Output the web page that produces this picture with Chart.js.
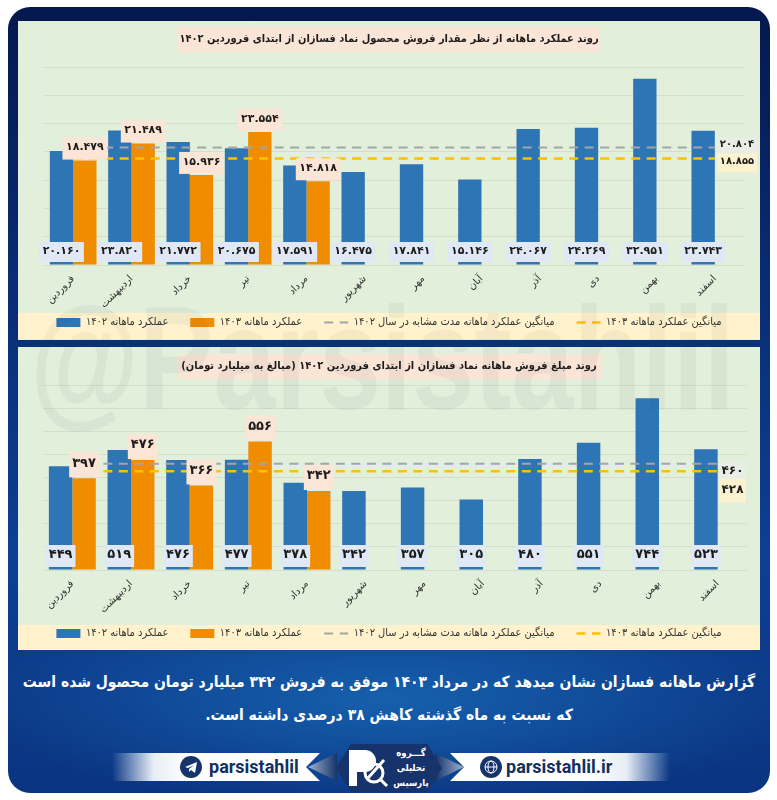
<!DOCTYPE html>
<html lang="fa">
<head>
<meta charset="utf-8">
<title>فسازان</title>
<script src="https://cdn.jsdelivr.net/npm/chart.js@4/dist/chart.umd.min.js"></script>
<style>
html, body { margin: 0; padding: 0; background: #fff; }
#page { position: relative; width: 777px; height: 800px; overflow: hidden; font-family: "DejaVu Sans Condensed", "DejaVu Sans", sans-serif; }
#frame { position: absolute; left: 8px; top: 7px; width: 762px; height: 786px; border-radius: 22px;
  background: radial-gradient(ellipse 420px 110px at 50% 88%, #1660ad 0%, rgba(22,96,173,0) 100%), linear-gradient(180deg, #04184f 0%, #0a2f78 40%, #0d3f92 70%, #0a3480 100%); }
.panel { position: absolute; left: 18px; width: 742px; background: #e2efda; }
.strip { position: absolute; left: 18px; width: 742px; background: #fff2cc; }
.chartbox { position: absolute; left: 18px; width: 742px; }
#watermark { position: absolute; left: 30px; top: 286px; font: bold 146px/1 "Liberation Sans", sans-serif; color: rgba(30,60,70,.05); white-space: nowrap; pointer-events: none; transform: scaleX(.765); transform-origin: left top; }
.note { position: absolute; left: 8px; width: 762px; text-align: center; direction: rtl; color: #fff; font-weight: bold; font-size: 15.5px; white-space: nowrap; }
.ribbon { position: absolute; top: 753px; height: 28px; }
.ribbon span { position: absolute; top: 3px; font: bold 18px "Roboto", sans-serif; color: #12305f; white-space: nowrap; }
.ribbon svg { position: absolute; top: 3px; }
.chevron { position: absolute; top: 753px; width: 29px; height: 28px; }
#logo { position: absolute; left: 336px; top: 744px; width: 106px; height: 48px; background: #16336b;
  clip-path: polygon(0 50%, 14% 0, 86% 0, 100% 50%, 86% 100%, 14% 100%); }
#logo svg { position: absolute; left: 10px; top: 4px; }
#logo i { position: absolute; left: 56px; width: 38px; text-align: center; font-style: normal; font-size: 9.5px; font-weight: bold; color: #fff; direction: rtl; white-space: nowrap; }
canvas { direction: rtl; }
</style>
</head>
<body>
<div id="page">
  <div id="frame"></div>
  <div class="panel" style="top:21px;height:319px"></div>
  <div class="panel" style="top:347px;height:303px"></div>
  <div class="strip" style="top:313px;height:26px"></div>
  <div class="strip" style="top:625px;height:25px"></div>
  <div class="chartbox" style="top:21px;height:333px"><canvas id="volumeChart"></canvas></div>
  <div class="chartbox" style="top:347px;height:312px"><canvas id="amountChart"></canvas></div>
  <div id="watermark">@Parsistahlil</div>
  <div class="note" style="top:673px">گزارش ماهانه فسازان نشان میدهد که در مرداد ۱۴۰۳ موفق به فروش ۳۴۲ میلیارد تومان محصول شده است</div>
  <div class="note" style="top:706px">که نسبت به ماه گذشته کاهش ۳۸ درصدی داشته است.</div>
  <div class="ribbon" style="left:112px;width:208px;clip-path:polygon(0 0,100% 0,calc(100% - 14px) 50%,100% 100%,0 100%);background:linear-gradient(90deg,rgba(255,255,255,0),#e8eef6 20%,#fff 38%,#fff 100%)">
    <svg style="left:68px" width="22" height="22" viewBox="0 0 22 22"><circle cx="11" cy="11" r="11" fill="#16336b"/><path d="M5 11l12-5-2 11-4-3-2 2v-3l5-4-6 3z" fill="#fff"/></svg>
    <span style="left:97px">parsistahlil</span>
  </div>
  <div class="chevron" style="left:308px;background:linear-gradient(90deg,#9fb4d0,#16336b);clip-path:polygon(100% 0,100% 100%,0 50%)"></div>
  <div class="ribbon" style="left:450px;width:220px;clip-path:polygon(0 0,100% 0,100% 100%,0 100%,14px 50%);background:linear-gradient(270deg,rgba(255,255,255,0),#e8eef6 20%,#fff 38%,#fff 100%)">
    <svg style="left:30px" width="22" height="22" viewBox="0 0 22 22"><circle cx="11" cy="11" r="11" fill="#16336b"/><circle cx="11" cy="11" r="6" fill="none" stroke="#fff"/><ellipse cx="11" cy="11" rx="3" ry="6" fill="none" stroke="#fff"/><path d="M5 11h12" stroke="#fff"/></svg>
    <span style="left:56px">parsistahlil.ir</span>
  </div>
  <div class="chevron" style="left:435px;background:linear-gradient(270deg,#9fb4d0,#16336b);clip-path:polygon(0 0,0 100%,100% 50%)"></div>
  <div id="logo">
    <svg width="48" height="40" viewBox="0 0 48 40"><path d="M3 2h16a11 11 0 0 1 0 22h-8v14H3z" fill="#fff"/><circle cx="28" cy="25" r="9" fill="none" stroke="#fff" stroke-width="3"/><path d="M34 31l7 7M22 30l16-18" stroke="#fff" stroke-width="3"/></svg>
    <i style="top:3px">گـــروه</i>
    <i style="top:18px">تحلیلی</i>
    <i style="top:33px">پارسیس</i>
  </div>
</div>

<script>
// ماه ها
const months = ['فروردین', 'اردیبهشت', 'خرداد', 'تیر', 'مرداد', 'شهریور', 'مهر', 'آبان', 'آذر', 'دی', 'بهمن', 'اسفند'];

// مقدار فروش
const volume1402 = [20160, 23820, 21772, 20675, 17591, 16475, 17841, 15146, 24067, 24269, 32951, 23743];
const volume1403 = [18479, 21489, 15936, 23554, 14818];
const volumeAvg1402 = [20804, 20804, 20804, 20804, 20804, 20804, 20804, 20804, 20804, 20804, 20804, 20804];
const volumeAvg1403 = [18855, 18855, 18855, 18855, 18855, 18855, 18855, 18855, 18855, 18855, 18855, 18855];

// مبلغ فروش
const amount1402 = [449, 519, 476, 477, 378, 342, 357, 305, 480, 551, 744, 523];
const amount1403 = [397, 476, 366, 556, 342];
const amountAvg1402 = [460, 460, 460, 460, 460, 460, 460, 460, 460, 460, 460, 460];
const amountAvg1403 = [428, 428, 428, 428, 428, 428, 428, 428, 428, 428, 428, 428];

const seriesNames = ['عملکرد ماهانه ۱۴۰۲', 'عملکرد ماهانه ۱۴۰۳', 'میانگین عملکرد ماهانه مدت مشابه در سال ۱۴۰۲', 'میانگین عملکرد ماهانه ۱۴۰۳'];
const volumeTitle = 'روند عملکرد ماهانه از نظر مقدار فروش محصول نماد فسازان از ابتدای فروردین ۱۴۰۲';
const amountTitle = 'روند مبلغ فروش ماهانه نماد فسازان از ابتدای فروردین ۱۴۰۲ (مبالغ به میلیارد تومان)';

const FONT = '"DejaVu Sans", sans-serif';
const NARROW = '"DejaVu Sans Condensed", "DejaVu Sans", sans-serif';

function toPersian(n) {
    // جداکننده هزارگان مثل تصویر نقطه است
    const s = n >= 1000 ? Math.floor(n / 1000) + '.' + String(n % 1000).padStart(3, '0') : String(n);
    return s.replace(/\d/g, d => '۰۱۲۳۴۵۶۷۸۹'[d]);
}

function box(ctx, text, x, y, w, h, textY, fill, size) {
    ctx.fillStyle = fill;
    ctx.fillRect(x, y, w, h);
    ctx.fillStyle = '#1c1c1c';
    ctx.font = `bold ${size}px ${FONT}`;
    ctx.textAlign = 'center';
    ctx.textBaseline = 'middle';
    ctx.fillText(text, x + w / 2, textY);
}

// کادر عنوان پشت متن عنوان
const titleBack = {
    id: 'titleBack',
    afterLayout(chart, args, opts) {
        // راهنما روی نوار زرد بنشیند، پایین محور x خالی است
        chart.legend.top -= opts.legendLift;
    },
    beforeDraw(chart, args, opts) {
        const t = chart.titleBlock;
        const cy = t.top + t.options.padding.top + t.options.font.size * 0.6;
        chart.ctx.save();
        chart.ctx.fillStyle = '#fbe5d6';
        chart.ctx.fillRect(chart.width / 2 - opts.width / 2, cy - opts.height / 2, opts.width, opts.height);
        chart.ctx.restore();
    }
};

// برچسب ستون ها و میانگین ها
const valueBoxes = {
    id: 'valueBoxes',
    afterDatasetsDraw(chart, args, opts) {
        const ctx = chart.ctx;
        const base = chart.scales.y.getPixelForValue(0);
        ctx.save();
        ctx.font = `bold ${opts.size}px ${FONT}`;
        chart.getDatasetMeta(0).data.forEach((bar, i) => {
            const text = toPersian(chart.data.datasets[0].data[i]);
            const w = ctx.measureText(text).width + opts.padX;
            box(ctx, text, bar.x - w / 2, base - opts.lowTop, w, opts.lowTop - opts.lowGap, base - opts.lowText, '#dfe8f4', opts.size);
        });
        chart.getDatasetMeta(1).data.forEach((bar, i) => {
            const value = chart.data.datasets[1].data[i];
            if (value === undefined) return;
            const text = toPersian(value);
            const w = ctx.measureText(text).width + opts.padX;
            box(ctx, text, bar.x - w / 2, bar.y - opts.topH - 1, w, opts.topH, bar.y - opts.topText, '#fbe5d6', opts.size);
        });
        const g = chart.scales.y.getPixelForValue(chart.data.datasets[2].data[0]);
        const o = chart.scales.y.getPixelForValue(chart.data.datasets[3].data[0]);
        box(ctx, toPersian(chart.data.datasets[2].data[0]), opts.endX, g + opts.gray[0], opts.endW, opts.gray[1], g + opts.gray[2], '#e9ede6', opts.size - 1);
        box(ctx, toPersian(chart.data.datasets[3].data[0]), opts.endX, o + opts.gold[0], opts.endW, opts.gold[1], o + opts.gold[2], '#fdf2d0', opts.size - 1);
        ctx.restore();
    }
};

function makeChart(id, cfg) {
    const ctx = document.getElementById(id).getContext('2d');
    return new Chart(ctx, {
        type: 'bar',
        data: {
            labels: months,
            datasets: [
                { label: seriesNames[0], data: cfg.s1402, backgroundColor: '#2e75b6', pointStyle: 'rect', order: 1,
                  categoryPercentage: 0.8, barPercentage: 1 },
                { label: seriesNames[1], data: cfg.s1403, backgroundColor: '#f08c00', pointStyle: 'rect', order: 1,
                  categoryPercentage: 0.8, barPercentage: 1 },
                { type: 'line', label: seriesNames[2], data: cfg.avg1402, borderColor: '#a5a5a5', borderWidth: 2,
                  borderDash: [9, 6.5], pointRadius: 0, pointBorderWidth: 2, pointStyle: 'line', order: 0 },
                { type: 'line', label: seriesNames[3], data: cfg.avg1403, borderColor: '#ffc000', borderWidth: 2.5,
                  borderDash: [9, 6.5], pointRadius: 0, pointBorderWidth: 2.5, pointStyle: 'line', order: 0 }
            ]
        },
        plugins: [titleBack, valueBoxes],
        options: {
            responsive: true,
            maintainAspectRatio: false,
            animation: false,
            layout: { padding: { left: cfg.side, right: cfg.side } },
            scales: {
                x: {
                    grid: { display: false, drawTicks: false },
                    border: { display: false },
                    ticks: { minRotation: 45, maxRotation: 45, autoSkip: false, padding: 8, color: '#333', font: { family: FONT, size: 10 } },
                    afterFit(s) { s.height = cfg.xHeight; }
                },
                y: {
                    min: 0,
                    max: cfg.max,
                    ticks: { display: false, stepSize: cfg.step },
                    grid: { color: '#d3dfcb', drawTicks: false },
                    border: { display: false },
                    afterFit(s) { s.width = cfg.yWidth; }
                }
            },
            plugins: {
                tooltip: { enabled: false },
                title: {
                    display: true,
                    text: cfg.title,
                    color: '#1c1c1c',
                    font: { family: NARROW, size: 11, weight: 'bold' },
                    padding: cfg.titlePad
                },
                titleBack: { width: cfg.titleW, height: 25, legendLift: cfg.legendLift },
                valueBoxes: cfg.boxes,
                legend: {
                    position: 'bottom',
                    labels: {
                        usePointStyle: true,
                        pointStyleWidth: 24,
                        boxHeight: 9,
                        padding: 22,
                        color: '#333',
                        font: { family: NARROW, size: 11 },
                        sort: (a, b) => a.datasetIndex - b.datasetIndex,
                        generateLabels(chart) {
                            const items = Chart.defaults.plugins.legend.labels.generateLabels(chart);
                            items.forEach(it => { it.lineDash = chart.data.datasets[it.datasetIndex].borderDash || []; });
                            return items;
                        }
                    }
                }
            }
        }
    });
}

makeChart('volumeChart', {
    s1402: volume1402, s1403: volume1403, avg1402: volumeAvg1402, avg1403: volumeAvg1403,
    max: 35000, step: 5000, title: volumeTitle, titleW: 422,
    titlePad: { top: 12, bottom: 21 }, side: 16, yWidth: 10, xHeight: 46, legendLift: 16,
    boxes: { size: 11, padX: 7, lowTop: 23, lowGap: 3, lowText: 14, topH: 22, topText: 13, endX: 699, endW: 40,
             gray: [-10, 15, -3], gold: [-5, 19, 3] }
});

makeChart('amountChart', {
    s1402: amount1402, s1403: amount1403, avg1402: amountAvg1402, avg1403: amountAvg1403,
    max: 800, step: 100, title: amountTitle, titleW: 424,
    titlePad: { top: 13, bottom: 12 }, side: 13, yWidth: 12, xHeight: 46, legendLift: 10,
    boxes: { size: 13, padX: 6, lowTop: 25, lowGap: 3, lowText: 15, topH: 25, topText: 15, endX: 701, endW: 27,
             gray: [-2, 18, 7], gold: [8, 23, 19] }
});
</script>
</body>
</html>
